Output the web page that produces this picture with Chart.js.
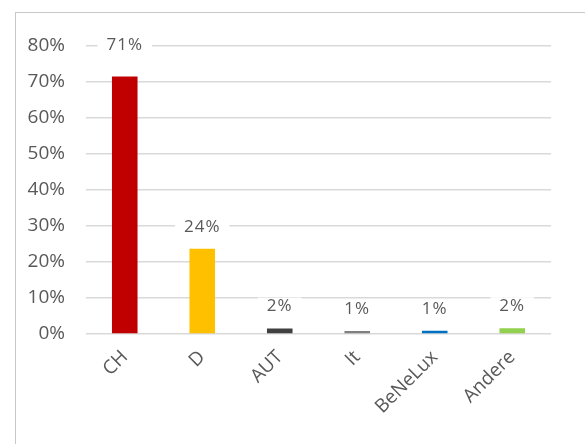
<!DOCTYPE html>
<html>
<head>
<meta charset="utf-8">
<script src="https://cdn.jsdelivr.net/npm/chart.js@4/dist/chart.umd.min.js"></script>
<style>
  html, body { margin: 0; padding: 0; background: #fff; overflow: hidden; }
  .frame {
    position: absolute; left: 15px; top: 12px;
    width: 620px; height: 480px;
    border-left: 1px solid #c8c8c8; border-top: 1px solid #c8c8c8;
  }
  .box { position: absolute; left: 0; top: 0; width: 570px; height: 432px; }
</style>
</head>
<body>
<div class="frame">
  <div class="box"><canvas id="chart"></canvas></div>
</div>
<script>
const categories = ['CH', 'D', 'AUT', 'It', 'BeNeLux', 'Andere'];
const shares = [71.4, 23.6, 1.5, 0.8, 0.9, 1.6];
const barColors = ['#C00000', '#FFC000', '#404040', '#808080', '#0070C0', '#92D050'];
const yTicks = [0, 10, 20, 30, 40, 50, 60, 70, 80];

const textColor = '#595959';
const fontFamily = '"Open Sans", "Noto Sans", sans-serif';

// value labels drawn on a white box so the gridlines break around them
const valueLabels = {
    id: 'valueLabels',
    afterDatasetsDraw(chart) {
        const ctx = chart.ctx;
        const meta = chart.getDatasetMeta(0);
        const top = chart.chartArea.top;
        ctx.save();
        ctx.font = '17px ' + fontFamily;
        ctx.letterSpacing = '1px';
        ctx.textAlign = 'center';
        ctx.textBaseline = 'middle';
        meta.data.forEach((bar, i) => {
            const text = Math.round(shares[i]) + '%';
            let y = bar.y - 22;
            // tall bars: label goes up to the top gridline
            if (y < top + 20) y = top;
            const w = ctx.measureText(text).width + 18;
            ctx.fillStyle = '#fff';
            ctx.fillRect(bar.x - w / 2, y - 9, w, 18);
            ctx.fillStyle = textColor;
            ctx.fillText(text, bar.x, y);
        });
        ctx.restore();
    }
};

new Chart(document.getElementById('chart').getContext('2d'), {
    type: 'bar',
    data: {
        labels: categories,
        datasets: [{
            data: shares,
            backgroundColor: barColors,
            categoryPercentage: 0.33,
            barPercentage: 1
        }]
    },
    options: {
        responsive: true,
        maintainAspectRatio: false,
        animation: false,
        layout: { padding: { top: 27, right: 35, left: 0, bottom: 0 } },
        plugins: { legend: { display: false }, tooltip: { enabled: false } },
        scales: {
            x: {
                grid: { display: false },
                border: { display: false },
                ticks: {
                    color: textColor,
                    font: { family: fontFamily, size: 19 },
                    minRotation: 45,
                    maxRotation: 45,
                    padding: 4
                },
                afterFit(scale) { scale.height = 111; }
            },
            y: {
                min: 0,
                max: 80,
                afterBuildTicks(scale) { scale.ticks = yTicks.map(v => ({ value: v })); },
                grid: { color: '#d9d9d9', lineWidth: 1.5, drawTicks: false },
                border: { display: false },
                ticks: {
                    color: textColor,
                    font: { family: fontFamily, size: 19 },
                    padding: 21,
                    callback: v => v + '%'
                },
                afterFit(scale) { scale.width = 70; }
            }
        }
    },
    plugins: [valueLabels]
});
</script>
</body>
</html>
